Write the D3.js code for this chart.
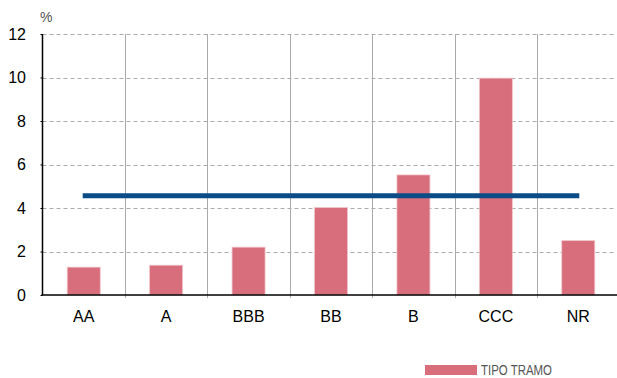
<!DOCTYPE html>
<html><head><meta charset="utf-8">
<script src="https://cdn.jsdelivr.net/npm/d3@7"></script>
<style>body{margin:0;background:#fff}svg{display:block}text{font-family:"Liberation Sans",Arial,Helvetica,sans-serif}</style>
</head><body>
<svg id="c" width="617" height="378"></svg>
<script>
const categories = ["AA","A","BBB","BB","B","CCC","NR"];
const values = [1.28, 1.37, 2.2, 4.02, 5.52, 9.97, 2.5];
const referenceValue = 4.56;
const yTicks = [0,2,4,6,8,10,12];
const seriesName = "TIPO TRAMO";
const unitLabel = "%";

(function(){
const svg = d3.select("#c");
const mLeft = 42.5, mRight = 619.5, mTop = 34, mBottom = 295;
const x = d3.scaleBand().domain(categories).range([mLeft, mRight]).paddingInner(0).paddingOuter(0);
const y = d3.scaleLinear().domain([0,12]).range([mBottom, mTop]);
const barColor = "#d86d7b";

// horizontal dashed grid
svg.append("g").selectAll("line").data(yTicks.filter(d=>d>0)).join("line")
  .attr("x1", mLeft).attr("x2", mRight-4)
  .attr("y1", d=>Math.round(y(d))+0.5).attr("y2", d=>Math.round(y(d))+0.5)
  .attr("stroke","#aaa").attr("stroke-width",1).attr("stroke-dasharray","4,3");

// vertical grid at category boundaries
const bounds = categories.slice(1).map(c=>x(c));
svg.append("g").selectAll("line").data(bounds).join("line")
  .attr("x1", d=>Math.round(d)+0.5).attr("x2", d=>Math.round(d)+0.5)
  .attr("y1", mTop).attr("y2", mBottom+3)
  .attr("stroke","#aaa").attr("stroke-width",1);

// bars
const bw = 33;
svg.append("g").selectAll("rect").data(categories).join("rect")
  .attr("x", (d)=>x(d)+x.bandwidth()/2-bw/2)
  .attr("y", (d,i)=>y(values[i]))
  .attr("width", bw)
  .attr("height", (d,i)=>y(0)-y(values[i]))
  .attr("fill", barColor).attr("stroke","#f0c4ca").attr("stroke-width",0.8);

// reference line
svg.append("line")
  .attr("x1", x("AA")+x.bandwidth()/2-1).attr("x2", x("NR")+x.bandwidth()/2+1)
  .attr("y1", y(referenceValue)).attr("y2", y(referenceValue))
  .attr("stroke","#0b4c86").attr("stroke-width",5);

// axes
const yAxis = d3.axisLeft(y).tickValues(yTicks).tickSize(2).tickPadding(14.5);
const gy = svg.append("g").attr("transform",`translate(${mLeft},0)`).call(yAxis);
gy.select(".domain").attr("d",`M0,${mTop}V${mBottom}`).attr("stroke","#000").attr("stroke-width",1.5);
gy.selectAll(".tick line").attr("stroke","#000");
gy.selectAll("text").attr("font-size",16).attr("fill","#000").attr("font-family","Liberation Sans, Arial, sans-serif");

const xAxis = d3.axisBottom(x).tickSize(0).tickPadding(16);
const gx = svg.append("g").attr("transform",`translate(0,${mBottom})`).call(xAxis);
gx.select(".domain").attr("d",`M${mLeft-1},0H${mRight}`).attr("stroke","#000").attr("stroke-width",1.5);
gx.selectAll("text").attr("font-size",16).attr("fill","#000").attr("font-family","Liberation Sans, Arial, sans-serif");

// unit label
svg.append("text").attr("x",40).attr("y",22).attr("font-size",14).attr("fill","#555").text(unitLabel);

// legend
svg.append("rect").attr("x",425).attr("y",365).attr("width",52).attr("height",10).attr("fill",barColor);
svg.append("text").attr("x",481).attr("y",375).attr("font-size",14).attr("fill","#555")
  .style("font-family","'Liberation Sans Narrow','Arial Narrow',sans-serif")
  .attr("textLength",71).attr("lengthAdjust","spacingAndGlyphs").text(seriesName);
})();
</script>
</body></html>
